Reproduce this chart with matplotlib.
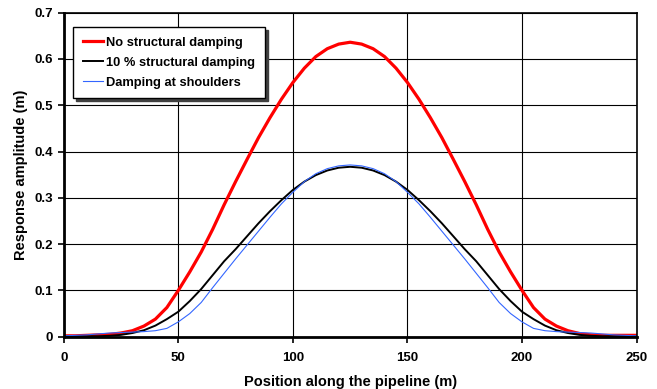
import matplotlib
matplotlib.use("Agg")
import matplotlib.pyplot as plt
from matplotlib.ticker import FuncFormatter

plt.rcParams["font.family"] = ["Liberation Sans", "DejaVu Sans"]
plt.rcParams["font.weight"] = "bold"

# position along the pipeline (m)
position = list(range(0, 255, 5))

# no structural damping
no_damping = [
    0.002, 0.002, 0.003, 0.004, 0.005, 0.008, 0.013, 0.023, 0.038, 0.063,
    0.100, 0.140, 0.183, 0.232, 0.285, 0.335, 0.383, 0.430, 0.473, 0.513,
    0.549, 0.580, 0.605, 0.622, 0.632, 0.636, 0.632, 0.622, 0.605, 0.580,
    0.549, 0.513, 0.473, 0.430, 0.383, 0.335, 0.285, 0.232, 0.183, 0.140,
    0.100, 0.063, 0.038, 0.023, 0.013, 0.007, 0.004, 0.003, 0.003, 0.003,
    0.003,
]

# 10 % structural damping
damping_10 = [
    0.001, 0.001, 0.001, 0.001, 0.002, 0.004, 0.008, 0.014, 0.024, 0.038,
    0.054, 0.077, 0.103, 0.133, 0.163, 0.189, 0.217, 0.245, 0.271, 0.295,
    0.317, 0.335, 0.349, 0.359, 0.365, 0.367, 0.365, 0.359, 0.349, 0.335,
    0.317, 0.295, 0.271, 0.245, 0.217, 0.189, 0.163, 0.133, 0.103, 0.077,
    0.054, 0.038, 0.024, 0.014, 0.008, 0.004, 0.002, 0.001, 0.001, 0.001,
    0.001,
]

# damping at shoulders
shoulders = [
    0.002, 0.003, 0.004, 0.006, 0.008, 0.009, 0.010, 0.011, 0.013, 0.018,
    0.032, 0.050, 0.074, 0.106, 0.137, 0.168, 0.198, 0.228, 0.258, 0.287,
    0.312, 0.335, 0.352, 0.363, 0.369, 0.371, 0.369, 0.363, 0.352, 0.335,
    0.312, 0.287, 0.258, 0.228, 0.198, 0.168, 0.137, 0.106, 0.074, 0.050,
    0.032, 0.018, 0.013, 0.011, 0.010, 0.009, 0.008, 0.006, 0.004, 0.003,
    0.002,
]

fig = plt.figure(figsize=(6.57, 3.89), dpi=100)
ax = fig.add_axes([0.097, 0.1344, 0.872, 0.8332])

ax.plot(position, no_damping, color="#ff0000", lw=2.3, solid_joinstyle="round",
        label="No structural damping")
ax.plot(position, damping_10, color="black", lw=1.4, solid_joinstyle="round",
        label="10 % structural damping")
ax.plot(position, shoulders, color="#3366ff", lw=0.8, solid_joinstyle="round",
        label="Damping at shoulders")

ax.set_xlim(0, 250)
ax.set_ylim(0, 0.7)
ax.set_xticks(range(0, 251, 50))
ax.set_yticks([i / 10 for i in range(8)])
ax.yaxis.set_major_formatter(FuncFormatter(lambda v, p: "0" if v == 0 else "%.1f" % v))
ax.grid(True, color="black", lw=0.8)
ax.set_axisbelow(True)

for side in ["left", "bottom"]:
    ax.spines[side].set_linewidth(2)
for side in ["top", "right"]:
    ax.spines[side].set_linewidth(1.2)
ax.tick_params(direction="out", length=4, width=1.2, labelsize=9.5)
ax.tick_params(axis="x", pad=7)
for lbl in ax.get_xticklabels() + ax.get_yticklabels():
    lbl.set_fontweight("bold")

ax.set_xlabel("Position along the pipeline (m)", fontsize=10.5, fontweight="bold", labelpad=8)
ax.set_ylabel("Response amplitude (m)", fontsize=10.5, fontweight="bold", labelpad=5)

leg = ax.legend(loc="upper left", bbox_to_anchor=(0.016, 0.956), borderaxespad=0,
                fancybox=False, shadow={"color": "0.25", "alpha": 1}, edgecolor="black",
                framealpha=1, handlelength=1.6, handletextpad=0.25, labelspacing=0.62,
                borderpad=0.75, prop={"weight": "bold", "size": 9.3})
leg.get_frame().set_linewidth(1)

fig.savefig("out.png", dpi=100)
